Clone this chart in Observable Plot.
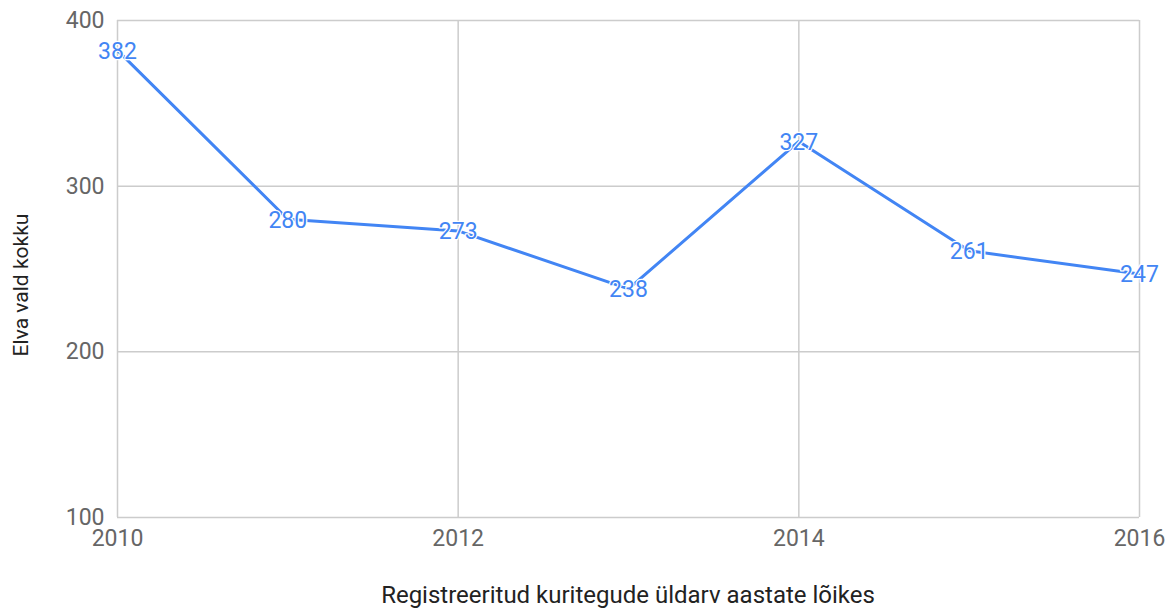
<!DOCTYPE html>
<html><head><meta charset="utf-8">
<script src="https://cdn.jsdelivr.net/npm/d3@7"></script>
<script src="https://cdn.jsdelivr.net/npm/@observablehq/plot@0.6"></script>
<style>
body{margin:0;background:#fff;font-family:Roboto,sans-serif;}
#chart{position:relative;width:1168px;height:611px;}
</style>
</head><body><div id="chart"></div>
<script>
const years = [2010, 2011, 2012, 2013, 2014, 2015, 2016];
const values = [382, 280, 273, 238, 327, 261, 247];
const xTicks = [2010, 2012, 2014, 2016];
const yTicks = [100, 200, 300, 400];
const xTitle = "Registreeritud kuritegude üldarv aastate lõikes";
const yTitle = "Elva vald kokku";

const data = years.map((y, i) => ({year: y, value: values[i]}));
const blue = "#4285f4";
const gray = "#666";

const plot = Plot.plot({
  width: 1168, height: 611,
  marginLeft: 117, marginRight: 29, marginTop: 20, marginBottom: 94,
  style: {fontFamily: "Roboto, sans-serif", background: "#fff"},
  x: {domain: [2010, 2016], ticks: xTicks, tickFormat: d => String(d)},
  y: {domain: [100, 400], ticks: yTicks},
  marks: [
    Plot.gridX(xTicks, {stroke: "#cccccc", strokeOpacity: 1, strokeWidth: 1.5}),
    Plot.gridY(yTicks, {stroke: "#cccccc", strokeOpacity: 1, strokeWidth: 1.5}),
    Plot.axisX(xTicks, {tickSize: 0, tickPadding: 12, fontSize: 23, fill: gray, label: null, tickFormat: d => String(d)}),
    Plot.axisY(yTicks, {tickSize: 0, tickPadding: 13, fontSize: 23, fill: gray, label: null}),
    Plot.line(data, {x: "year", y: "value", stroke: blue, strokeWidth: 3}),
    Plot.text(data, {x: "year", y: "value", text: d => String(d.value), fill: blue, fontSize: 23, stroke: "white", strokeWidth: 2.5, dy: 1})
  ]
});
const chart = document.getElementById("chart");
chart.appendChild(plot);
const svg = d3.select(plot);
svg.append("text").attr("x", 628).attr("y", 603).attr("text-anchor", "middle")
  .attr("font-size", 24).attr("fill", "#222").attr("font-family", "Roboto, sans-serif").text(xTitle);
svg.append("text").attr("transform", "translate(28,285) rotate(-90)").attr("text-anchor", "middle")
  .attr("font-size", 21).attr("fill", "#222").attr("font-family", "Roboto, sans-serif").text(yTitle);
</script>
</body></html>
